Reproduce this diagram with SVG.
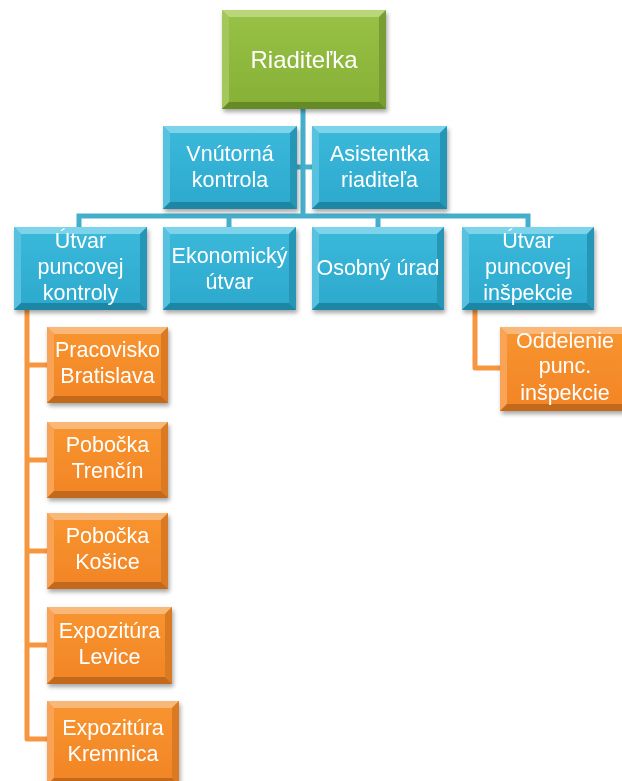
<svg xmlns="http://www.w3.org/2000/svg" width="622" height="781" viewBox="0 0 622 781">
<defs>
<filter id="sh" x="-10%" y="-10%" width="125%" height="130%">
<feDropShadow dx="1.5" dy="3" stdDeviation="2" flood-color="#000" flood-opacity="0.35"/>
</filter>
<filter id="ts" x="-5%" y="-5%" width="110%" height="115%">
<feDropShadow dx="0.5" dy="1" stdDeviation="0.6" flood-color="#000" flood-opacity="0.3"/>
</filter>
<linearGradient id="gG" x1="0" y1="0" x2="0" y2="1"><stop offset="0" stop-color="#98C246"/><stop offset="1" stop-color="#86B035"/></linearGradient>
<linearGradient id="gB" x1="0" y1="0" x2="0" y2="1"><stop offset="0" stop-color="#3BB9DB"/><stop offset="1" stop-color="#2CA9CD"/></linearGradient>
<linearGradient id="gO" x1="0" y1="0" x2="0" y2="1"><stop offset="0" stop-color="#F8952F"/><stop offset="1" stop-color="#F28426"/></linearGradient>
</defs>
<style>
text{font-family:"Liberation Sans",Arial,sans-serif;font-size:21.5px;fill:#fff;text-anchor:middle}
.big{font-size:24px}
.green .f{fill:url(#gG)} .green .t{fill:#B9D77A} .green .l{fill:#A3C75A} .green .r{fill:#789D30} .green .b{fill:#668A26}
.blue .f{fill:url(#gB)} .blue .t{fill:#7DD3EA} .blue .l{fill:#57C2E0} .blue .r{fill:#2596B7} .blue .b{fill:#1D86A4}
.orange .f{fill:url(#gO)} .orange .t{fill:#FAB878} .orange .l{fill:#F8A356} .orange .r{fill:#DA7A22} .orange .b{fill:#C3691B}
.box{filter:url(#sh)}
.cb{fill:none;stroke:#45AFCB;stroke-width:5}
.co{fill:none;stroke:#F7963E;stroke-width:5;stroke-linejoin:round}
</style>

<g id="connectors">
<path class="cb" d="M303 109 V216 M297 167 H303"/>
<path class="cb" d="M303 167 H312"/>
<path class="cb" d="M79 227 V216 H528 V227 M229 216 V227 M378 216 V227"/>
<path class="co" d="M27 310 V739 H47 M27 365 H47 M27 460 H47 M27 551 H47 M27 645 H47"/>
<path class="co" d="M475 310 V368 H500"/>
</g>

<g id="riaditelka" class="box green" transform="translate(222,10)">
<rect class="f" width="164" height="99"/>
<polygon class="t" points="0,0 164,0 157,7 7,7"/>
<polygon class="l" points="0,0 7,7 7,92 0,99"/>
<polygon class="r" points="164,0 164,99 157,92 157,7"/>
<polygon class="b" points="0,99 7,92 157,92 164,99"/>
<text class="big" x="82" y="58">Riaditeľka</text>
</g>

<g id="vnutorna" class="box blue" transform="translate(163,126)">
<rect class="f" width="134" height="83"/>
<polygon class="t" points="0,0 134,0 127,7 7,7"/>
<polygon class="l" points="0,0 7,7 7,76 0,83"/>
<polygon class="r" points="134,0 134,83 127,76 127,7"/>
<polygon class="b" points="0,83 7,76 127,76 134,83"/>
<text x="67" y="35">Vnútorná</text><text x="67" y="61">kontrola</text>
</g>

<g id="asistentka" class="box blue" transform="translate(312,126)">
<rect class="f" width="135" height="83"/>
<polygon class="t" points="0,0 135,0 128,7 7,7"/>
<polygon class="l" points="0,0 7,7 7,76 0,83"/>
<polygon class="r" points="135,0 135,83 128,76 128,7"/>
<polygon class="b" points="0,83 7,76 128,76 135,83"/>
<text x="67.5" y="35">Asistentka</text><text x="67.5" y="61">riaditeľa</text>
</g>

<g id="utvar-kontroly" class="box blue" transform="translate(14,227)">
<rect class="f" width="133" height="83"/>
<polygon class="t" points="0,0 133,0 126,7 7,7"/>
<polygon class="l" points="0,0 7,7 7,76 0,83"/>
<polygon class="r" points="133,0 133,83 126,76 126,7"/>
<polygon class="b" points="0,83 7,76 126,76 133,83"/>
<text x="66.5" y="21">Útvar</text><text x="66.5" y="47">puncovej</text><text x="66.5" y="73">kontroly</text>
</g>

<g id="ekonomicky" class="box blue" transform="translate(163,227)">
<rect class="f" width="133" height="83"/>
<polygon class="t" points="0,0 133,0 126,7 7,7"/>
<polygon class="l" points="0,0 7,7 7,76 0,83"/>
<polygon class="r" points="133,0 133,83 126,76 126,7"/>
<polygon class="b" points="0,83 7,76 126,76 133,83"/>
<text x="66.5" y="36">Ekonomický</text><text x="66.5" y="62">útvar</text>
</g>

<g id="osobny" class="box blue" transform="translate(312,227)">
<rect class="f" width="132" height="83"/>
<polygon class="t" points="0,0 132,0 125,7 7,7"/>
<polygon class="l" points="0,0 7,7 7,76 0,83"/>
<polygon class="r" points="132,0 132,83 125,76 125,7"/>
<polygon class="b" points="0,83 7,76 125,76 132,83"/>
<text x="66" y="48">Osobný úrad</text>
</g>

<g id="utvar-inspekcie" class="box blue" transform="translate(462,227)">
<rect class="f" width="132" height="83"/>
<polygon class="t" points="0,0 132,0 125,7 7,7"/>
<polygon class="l" points="0,0 7,7 7,76 0,83"/>
<polygon class="r" points="132,0 132,83 125,76 125,7"/>
<polygon class="b" points="0,83 7,76 125,76 132,83"/>
<text x="66" y="21">Útvar</text><text x="66" y="47">puncovej</text><text x="66" y="73">inšpekcie</text>
</g>

<g id="oddelenie" class="box orange" transform="translate(500,327)">
<rect class="f" width="132" height="84"/>
<polygon class="t" points="0,0 132,0 125,7 7,7"/>
<polygon class="l" points="0,0 7,7 7,77 0,84"/>
<polygon class="r" points="132,0 132,84 125,77 125,7"/>
<polygon class="b" points="0,84 7,77 125,77 132,84"/>
<text x="65" y="21">Oddelenie</text><text x="65" y="46">punc.</text><text x="65" y="73">inšpekcie</text>
</g>

<g id="bratislava" class="box orange" transform="translate(47,327)">
<rect class="f" width="121" height="76"/>
<polygon class="t" points="0,0 121,0 114,7 7,7"/>
<polygon class="l" points="0,0 7,7 7,69 0,76"/>
<polygon class="r" points="121,0 121,76 114,69 114,7"/>
<polygon class="b" points="0,76 7,69 114,69 121,76"/>
<text x="60.5" y="30">Pracovisko</text><text x="60.5" y="56">Bratislava</text>
</g>

<g id="trencin" class="box orange" transform="translate(47,422)">
<rect class="f" width="121" height="76"/>
<polygon class="t" points="0,0 121,0 114,7 7,7"/>
<polygon class="l" points="0,0 7,7 7,69 0,76"/>
<polygon class="r" points="121,0 121,76 114,69 114,7"/>
<polygon class="b" points="0,76 7,69 114,69 121,76"/>
<text x="60.5" y="30">Pobočka</text><text x="60.5" y="56">Trenčín</text>
</g>

<g id="kosice" class="box orange" transform="translate(47,513)">
<rect class="f" width="121" height="76"/>
<polygon class="t" points="0,0 121,0 114,7 7,7"/>
<polygon class="l" points="0,0 7,7 7,69 0,76"/>
<polygon class="r" points="121,0 121,76 114,69 114,7"/>
<polygon class="b" points="0,76 7,69 114,69 121,76"/>
<text x="60.5" y="30">Pobočka</text><text x="60.5" y="56">Košice</text>
</g>

<g id="levice" class="box orange" transform="translate(47,607)">
<rect class="f" width="125" height="77"/>
<polygon class="t" points="0,0 125,0 118,7 7,7"/>
<polygon class="l" points="0,0 7,7 7,70 0,77"/>
<polygon class="r" points="125,0 125,77 118,70 118,7"/>
<polygon class="b" points="0,77 7,70 118,70 125,77"/>
<text x="62.5" y="31">Expozitúra</text><text x="62.5" y="57">Levice</text>
</g>

<g id="kremnica" class="box orange" transform="translate(47,701)">
<rect class="f" width="132" height="84"/>
<polygon class="t" points="0,0 132,0 125,7 7,7"/>
<polygon class="l" points="0,0 7,7 7,77 0,84"/>
<polygon class="r" points="132,0 132,84 125,77 125,7"/>
<polygon class="b" points="0,84 7,77 125,77 132,84"/>
<text x="66" y="34">Expozitúra</text><text x="66" y="60">Kremnica</text>
</g>
</svg>
